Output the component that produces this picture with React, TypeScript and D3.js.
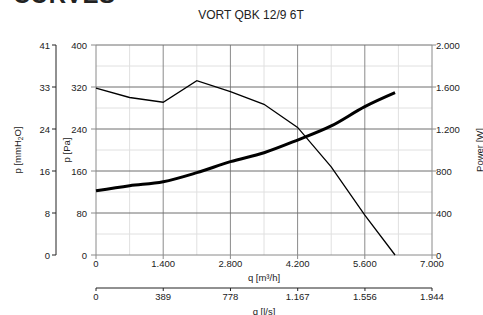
// @ts-nocheck
import * as d3 from 'd3'

const flowTicks = [0, 1400, 2800, 4200, 5600, 7000]
const flowLabels = ['0', '1.400', '2.800', '4.200', '5.600', '7.000']
const lsTicks = [0, 389, 778, 1167, 1556, 1944]
const lsLabels = ['0', '389', '778', '1.167', '1.556', '1.944']
const paTicks = [0, 80, 160, 240, 320, 400]
const mmLabels = ['0', '8', '16', '24', '33', '41']
const powerTicks = [0, 400, 800, 1200, 1600, 2000]
const powerLabels = ['0', '400', '800', '1.200', '1.600', '2.000']

const pressureQ = [0, 700, 1400, 2100, 2800, 3500, 4200, 4900, 5600, 6230]
const pressurePa = [318, 300, 291, 332, 311, 287, 243, 168, 76, 0]
const powerQ = [0, 700, 1400, 2100, 2800, 3500, 4200, 4900, 5600, 6230]
const powerW = [612, 660, 698, 784, 889, 974, 1095, 1229, 1413, 1546]

const W = 483
const H = 315
const left = 96
const right = 432
const top = 45
const bottom = 255
const font = 'Liberation Sans, Arial, sans-serif'
const fs = 9.5

export default function App() {
  const x = d3.scaleLinear().domain([0, 7000]).range([left, right])
  const xLs = d3.scaleLinear().domain([0, 1944]).range([left, right])
  const y = d3.scaleLinear().domain([0, 400]).range([bottom, top])
  const yP = d3.scaleLinear().domain([0, 2000]).range([bottom, top])

  const minorX = d3.range(700, 7000, 1400)
  const majorX = d3.range(1400, 7000, 1400)
  const minorY = d3.range(40, 400, 80)
  const majorY = d3.range(80, 401, 80)

  const pLine = d3
    .line()
    .x((d) => x(d[0]))
    .y((d) => y(d[1]))
  const wLine = d3
    .line()
    .x((d) => x(d[0]))
    .y((d) => yP(d[1]))
    .curve(d3.curveMonotoneX)

  const pData = pressureQ.map((q, i) => [q, pressurePa[i]])
  const wData = powerQ.map((q, i) => [q, powerW[i]])

  const lsY = 288

  return (
    <svg width={W} height={H} style={{ position: 'absolute', left: 0, top: 0 }} fontFamily={font}>
      <rect width={W} height={H} fill="#fff" />
      <text x={13} y={3} fontSize={24} fontWeight="bold" fill="#222" letterSpacing={0.5}>
        CURVES
      </text>
      <text x={251} y={19} fontSize={12} textAnchor="middle" fill="#222">
        VORT QBK 12/9 6T
      </text>

      {/* grid */}
      {minorX.map((v) => (
        <line key={'mx' + v} x1={x(v)} x2={x(v)} y1={top} y2={bottom} stroke="#e0e0e0" />
      ))}
      {minorY.map((v) => (
        <line key={'my' + v} x1={left} x2={right} y1={y(v)} y2={y(v)} stroke="#e0e0e0" />
      ))}
      {majorX.map((v) => (
        <line key={'Mx' + v} x1={x(v)} x2={x(v)} y1={top} y2={bottom} stroke="#8a8a8a" />
      ))}
      {majorY.map((v) => (
        <line key={'My' + v} x1={left} x2={right} y1={y(v)} y2={y(v)} stroke="#6e6e6e" />
      ))}

      {/* plot axes */}
      <line x1={left} x2={left} y1={top} y2={bottom} stroke="#8a8a8a" />
      <line x1={right} x2={right} y1={top} y2={bottom} stroke="#8a8a8a" />
      <line x1={left} x2={right} y1={bottom} y2={bottom} stroke="#8a8a8a" />

      {/* Pa axis */}
      {paTicks.map((v) => (
        <g key={'pa' + v}>
          <line x1={left - 5} x2={left} y1={y(v)} y2={y(v)} stroke="#8a8a8a" />
          <text x={left - 9} y={y(v) + 3.5} fontSize={fs} textAnchor="end" fill="#222">
            {v}
          </text>
        </g>
      ))}
      <text transform={`translate(70,${(top + bottom) / 2}) rotate(-90)`} fontSize={fs} textAnchor="middle" fill="#222">
        p [Pa]
      </text>

      {/* mmH2O axis */}
      <line x1={56} x2={56} y1={top} y2={bottom} stroke="#222" />
      {paTicks.map((v, i) => (
        <g key={'mm' + v}>
          <line x1={52} x2={56} y1={y(v)} y2={y(v)} stroke="#222" />
          <text x={50} y={y(v) + 3.5} fontSize={fs} textAnchor="end" fill="#222">
            {mmLabels[i]}
          </text>
        </g>
      ))}
      <text transform={`translate(21,${(top + bottom) / 2}) rotate(-90)`} fontSize={fs} textAnchor="middle" fill="#222">
        p [mmH<tspan fontSize={6.5} dy={2}>2</tspan><tspan dy={-2}>O]</tspan>
      </text>

      {/* Power axis */}
      {powerTicks.map((v, i) => (
        <g key={'pw' + v}>
          <line x1={right} x2={right + 4} y1={yP(v)} y2={yP(v)} stroke="#8a8a8a" />
          <text x={right + 4} y={yP(v) + 3.5} fontSize={fs} fill="#222">
            {powerLabels[i]}
          </text>
        </g>
      ))}
      <text transform={`translate(483,${(top + bottom) / 2}) rotate(-90)`} fontSize={fs} textAnchor="middle" fill="#222">
        Power [W]
      </text>

      {/* flow axis m3/h */}
      {flowTicks.map((v, i) => (
        <g key={'q' + v}>
          <line x1={x(v)} x2={x(v)} y1={bottom} y2={bottom + 4} stroke="#8a8a8a" />
          <text x={x(v)} y={bottom + 12} fontSize={fs} textAnchor="middle" fill="#222">
            {flowLabels[i]}
          </text>
        </g>
      ))}
      <text x={(left + right) / 2} y={281} fontSize={fs} textAnchor="middle" fill="#222">
        q [m³/h]
      </text>

      {/* flow axis l/s */}
      <line x1={left} x2={right} y1={lsY} y2={lsY} stroke="#222" />
      {lsTicks.map((v, i) => (
        <g key={'ls' + v}>
          <line x1={xLs(v)} x2={xLs(v)} y1={lsY} y2={lsY + 3} stroke="#222" />
          <text x={xLs(v)} y={lsY + 12} fontSize={fs} textAnchor="middle" fill="#222">
            {lsLabels[i]}
          </text>
        </g>
      ))}
      <text x={(left + right) / 2} y={315} fontSize={fs} textAnchor="middle" fill="#222">
        q [l/s]
      </text>

      {/* curves */}
      <path d={pLine(pData)} fill="none" stroke="#000" strokeWidth={1.3} />
      <path d={wLine(wData)} fill="none" stroke="#000" strokeWidth={3} />
    </svg>
  )
}
